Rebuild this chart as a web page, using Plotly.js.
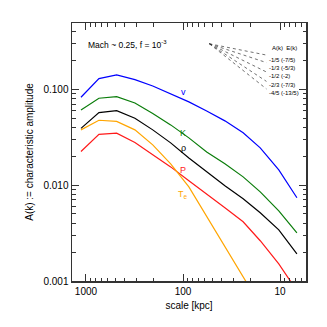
<!DOCTYPE html>
<html>
<head>
<meta charset="utf-8">
<script src="https://cdn.plot.ly/plotly-3.0.1.min.js"></script>
<style>
  html, body { margin: 0; padding: 0; background: #fff; }
  #plot { width: 327px; height: 327px; }
</style>
</head>
<body>
<div id="plot"></div>
<script>
// scale in kpc (x), amplitudes
var scale = [1126, 735, 483, 313, 205, 134, 87, 57, 37, 24, 16, 10.3, 6.7];
var ampV   = [0.0826, 0.129, 0.141, 0.126, 0.108, 0.0893, 0.0738, 0.0594, 0.0468, 0.0351, 0.0245, 0.0144, 0.00738];
var ampK   = [0.0608, 0.0806, 0.0837, 0.0719, 0.0560, 0.0425, 0.0311, 0.0222, 0.0167, 0.0122, 0.00851, 0.00540, 0.00318];
var ampRho = [0.0391, 0.0570, 0.0598, 0.0499, 0.0377, 0.0276, 0.0192, 0.0138, 0.00984, 0.00720, 0.00515, 0.00342, 0.00192];
var ampP   = [0.0224, 0.0338, 0.0348, 0.0279, 0.0207, 0.0155, 0.0111, 0.00811, 0.00580, 0.00415, 0.00263, 0.00151, 0.00079];
var ampTe  = [0.0377, 0.0475, 0.0462, 0.0377, 0.0263, 0.0167, 0.00959, 0.00467, 0.00228, 0.00111, 0.00054, 0.00027, 0.00013];

var names  = ['v', 'K', '&#961;', 'P', 'T<sub>e</sub>'];
var colors = ['#0000ff', '#0a7d0a', '#000000', '#ff1a1a', '#ffa500'];
var series = [ampV, ampK, ampRho, ampP, ampTe];
var labelY = [0.0944, 0.0353, 0.0243, 0.0144, 0.0079];

// reference slopes
var slopeA = [-1/5, -1/3, -1/2, -2/3, -4/5];
var slopeAText = ['-1/5', '-1/3', '-1/2', '-2/3', '-4/5'];
var slopeEText = ['(-7/5)', '(-5/3)', '(-2)', '(-7/3)', '(-13/5)'];
var slopeX0 = 53.5, slopeX1 = 13.8, slopeY0 = 0.298;

var data = [];
series.forEach(function (s, i) {
  data.push({x: scale, y: s, type: 'scatter', mode: 'lines',
    line: {color: colors[i], width: 1.2}, hoverinfo: 'skip'});
});
slopeA.forEach(function (a) {
  data.push({x: [slopeX0, slopeX1],
    y: [slopeY0, slopeY0 * Math.pow(slopeX1 / slopeX0, -a)],
    type: 'scatter', mode: 'lines',
    line: {color: '#333', width: 0.7, dash: 'dot'}, hoverinfo: 'skip'});
});

var annotations = [];
names.forEach(function (n, i) {
  annotations.push({x: 2, y: Math.log10(labelY[i]), xref: 'x', yref: 'y',
    text: n, showarrow: false, font: {size: 9, color: colors[i]}});
});
annotations.push({x: 0.06, y: 0.946, xref: 'paper', yref: 'paper', xanchor: 'left',
  text: 'Mach ~ 0.25, f = 10<sup>-3</sup>', showarrow: false,
  font: {size: 8.5, color: '#000'}});
annotations.push({x: 0.845, y: 0.921, xref: 'paper', yref: 'paper', xanchor: 'left',
  text: 'A(k)  E(k)', showarrow: false, font: {size: 6, color: '#000'}});
var rowY = [0.876, 0.846, 0.815, 0.779, 0.747];
slopeAText.forEach(function (t, i) {
  annotations.push({x: 0.835, y: rowY[i], xref: 'paper', yref: 'paper', xanchor: 'left',
    text: t + ' ' + slopeEText[i], showarrow: false, font: {size: 6, color: '#000'}});
});

var layout = {
  width: 327, height: 327,
  margin: {l: 72, r: 21, t: 23, b: 46},
  showlegend: false,
  paper_bgcolor: '#fff', plot_bgcolor: '#fff',
  font: {family: 'Liberation Sans, Arial, sans-serif', size: 10, color: '#000'},
  xaxis: {
    type: 'log', range: [Math.log10(1393), Math.log10(5.4)], autorange: false,
    tickvals: [1000, 100, 10], ticktext: ['1000', '100', '10'],
    ticks: 'inside', ticklen: 7, tickcolor: '#333', mirror: 'allticks',
    showline: true, linecolor: '#333', linewidth: 1.5, showgrid: false, zeroline: false,
    minor: {ticks: 'inside', ticklen: 3.5, tickcolor: '#333', dtick: 'D1', showgrid: false},
    title: {text: 'scale [kpc]', font: {size: 10}, standoff: 6},
    tickfont: {size: 10}
  },
  yaxis: {
    type: 'log', range: [-3, -0.309], autorange: false,
    tickvals: [0.001, 0.01, 0.1], ticktext: ['0.001', '0.010', '0.100'],
    ticks: 'inside', ticklen: 7, tickcolor: '#333', mirror: 'allticks',
    showline: true, linecolor: '#333', linewidth: 1.5, showgrid: false, zeroline: false,
    minor: {ticks: 'inside', ticklen: 3.5, tickcolor: '#333', dtick: 'D1', showgrid: false},
    title: {text: 'A(k) := characteristic amplitude', font: {size: 10}, standoff: 8},
    tickfont: {size: 10}
  },
  annotations: annotations
};

Plotly.newPlot('plot', data, layout, {staticPlot: true});
</script>
</body>
</html>
